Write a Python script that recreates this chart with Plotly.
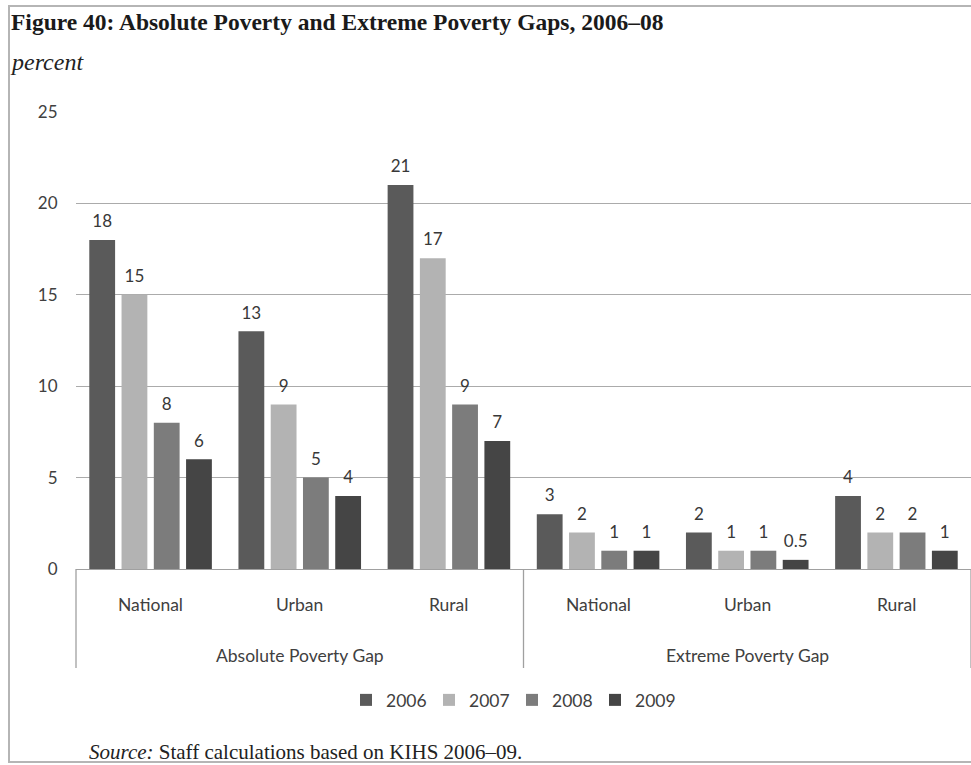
import plotly.graph_objects as go

# Poverty gap measures (percent), by area and year
groups = ["Absolute Poverty Gap"] * 3 + ["Extreme Poverty Gap"] * 3
areas = ["National", "Urban", "Rural"] * 2
years = ["2006", "2007", "2008", "2009"]

gap_2006 = [18, 13, 21, 3, 2, 4]
gap_2007 = [15, 9, 17, 2, 1, 2]
gap_2008 = [8, 5, 9, 1, 1, 2]
gap_2009 = [6, 4, 7, 1, 0.5, 1]

series = [gap_2006, gap_2007, gap_2008, gap_2009]
colors = ["#5a5a5a", "#b3b3b3", "#7c7c7c", "#454545"]

W, H = 971, 765
ML, MR, MT, MB = 76, 0, 112, 196
PW, PH = W - ML - MR, H - MT - MB
GAP = 0.135


def px(x):
    return (x - ML) / PW


def py(y):
    return (H - MB - y) / PH


SANS = "Lato, 'Noto Sans', sans-serif"
SERIF = "'Liberation Serif', 'Times New Roman', serif"
TXT = "#404040"

fig = go.Figure()
for yr, vals, col in zip(years, series, colors):
    fig.add_trace(go.Bar(
        name=yr,
        x=[groups, areas],
        y=vals,
        offsetgroup=yr,
        marker=dict(color=col, line=dict(width=0)),
        hovertemplate="%{x}<br>" + yr + ": %{y}<extra></extra>",
    ))
# value labels sitting above each bar, aligned with the bar groups
for yr, vals in zip(years, series):
    fig.add_trace(go.Scatter(
        x=[groups, areas],
        y=vals,
        offsetgroup=yr,
        mode="markers+text",
        text=[str(v) for v in vals],
        textposition="top center",
        textfont=dict(family=SANS, size=17, color="#383838"),
        marker=dict(size=12, opacity=0),
        cliponaxis=False,
        showlegend=False,
        hoverinfo="skip",
    ))

shapes = []
# frame around the figure
shapes.append(dict(type="rect", xref="paper", yref="paper",
                   x0=px(9), x1=px(990), y0=py(762), y1=py(6),
                   line=dict(color="#b5b5b5", width=2), layer="below"))
# group dividers under the category labels
for xv in [0, 0.5, 1]:
    shapes.append(dict(type="line", xref="paper", yref="paper",
                       x0=xv, x1=xv, y0=0, y1=py(668),
                       line=dict(color="#a0a0a0", width=1.3)))

annotations = []
n = len(areas)
for i, a in enumerate(areas):
    annotations.append(dict(text=a, xref="paper", yref="paper",
                            x=(i + 0.5) / n, y=py(604), showarrow=False,
                            xanchor="center", yanchor="middle",
                            font=dict(family=SANS, size=17.5, color=TXT)))
for j, g in enumerate(["Absolute Poverty Gap", "Extreme Poverty Gap"]):
    annotations.append(dict(text=g, xref="paper", yref="paper",
                            x=0.25 + 0.5 * j, y=py(655), showarrow=False,
                            xanchor="center", yanchor="middle",
                            font=dict(family=SANS, size=17.5, color=TXT)))
annotations.append(dict(text="<i>percent</i>", xref="paper", yref="paper",
                        x=px(8), y=py(62), showarrow=False,
                        xanchor="left", yanchor="middle",
                        font=dict(family=SERIF, size=24, color="#222222")))
annotations.append(dict(text="<i>Source:</i> Staff calculations based on KIHS 2006\u201309.",
                        xref="paper", yref="paper",
                        x=px(87), y=py(752), showarrow=False,
                        xanchor="left", yanchor="middle",
                        font=dict(family=SERIF, size=21, color="#222222")))

fig.update_layout(
    width=W, height=H,
    margin=dict(l=ML, r=MR, t=MT, b=MB),
    paper_bgcolor="white", plot_bgcolor="white",
    barmode="group", bargap=GAP, bargroupgap=0.2,
    scattermode="group", scattergap=GAP,
    title=dict(text="<b>Figure 40: Absolute Poverty and Extreme Poverty Gaps, 2006\u201308</b>",
               x=11 / W, xanchor="left", xref="container",
               y=1 - 22 / H, yanchor="middle",
               font=dict(family=SERIF, size=23.5, color="#1a1a1a")),
    showlegend=True,
    legend=dict(orientation="h", x=px(346), xanchor="left",
                y=py(700), yanchor="middle",
                font=dict(family=SANS, size=17.5, color=TXT),
                itemwidth=30, entrywidth=38, entrywidthmode="pixels",
                traceorder="normal"),
    shapes=shapes,
    annotations=annotations,
    font=dict(family=SANS, color=TXT),
)
fig.update_xaxes(showticklabels=False, showline=True, linecolor="#a0a0a0",
                 linewidth=1.3, showgrid=False, ticks="", showdividers=False)
fig.update_yaxes(range=[0, 25], dtick=5, showgrid=True, gridcolor="#ababab",
                 gridwidth=1.3, zeroline=False, showline=False,
                 ticks="outside", ticklen=14, tickcolor="rgba(0,0,0,0)",
                 tickfont=dict(family=SANS, size=17, color=TXT))

fig.write_html("out.html")
